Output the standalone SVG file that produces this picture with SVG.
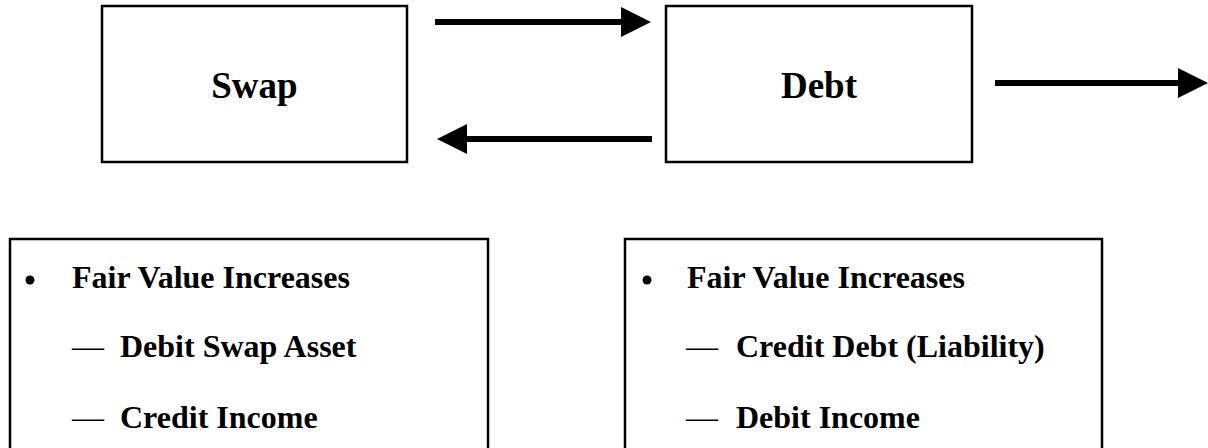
<svg xmlns="http://www.w3.org/2000/svg" width="1208" height="448" viewBox="0 0 1208 448">
<style>
.box{fill:#fff;stroke:#000;stroke-width:2.5}
.title{font-family:"Liberation Serif","Times New Roman",serif;font-weight:bold;font-size:37px;fill:#000;text-anchor:middle}
.txt{font-family:"Liberation Serif","Times New Roman",serif;font-weight:bold;font-size:32px;fill:#000}
.dash{font-family:"Liberation Serif","Times New Roman",serif;font-size:32px;fill:#000}
.conn{stroke:#000;stroke-width:6;fill:none;marker-end:url(#head)}
</style>
<defs>
<marker id="head" viewBox="0 0 30 30" refX="1" refY="15" markerWidth="30" markerHeight="30" markerUnits="userSpaceOnUse" orient="auto">
<path d="M0,0 L30,15 L0,30 z" fill="#000"/>
</marker>
</defs>
<rect width="1208" height="448" fill="#fff"/>
<g id="swap">
<rect class="box" x="102" y="6" width="305" height="156"/>
<text class="title" x="254.5" y="98">Swap</text>
</g>
<g id="debt">
<rect class="box" x="666" y="6" width="306" height="156"/>
<text class="title" x="819" y="98">Debt</text>
</g>
<g id="swap-notes">
<rect class="box" x="10" y="239" width="478" height="220"/>
<circle cx="30" cy="280" r="4.5" fill="#000"/>
<text class="txt" x="72" y="288">Fair Value Increases</text>
<text class="dash" x="72" y="357">—</text>
<text class="txt" x="120" y="357">Debit Swap Asset</text>
<text class="dash" x="72" y="428">—</text>
<text class="txt" x="120" y="428">Credit Income</text>
</g>
<g id="debt-notes">
<rect class="box" x="625" y="239" width="477" height="220"/>
<circle cx="647" cy="280" r="4.5" fill="#000"/>
<text class="txt" x="687" y="288">Fair Value Increases</text>
<text class="dash" x="686" y="357">—</text>
<text class="txt" x="736" y="357">Credit Debt (Liability)</text>
<text class="dash" x="686" y="428">—</text>
<text class="txt" x="736" y="428">Debit Income</text>
</g>
<g id="connectors">
<line class="conn" x1="435" y1="22" x2="622" y2="22"/>
<line class="conn" x1="652" y1="139" x2="466" y2="139"/>
<line class="conn" x1="995" y1="83" x2="1179" y2="83"/>
</g>
</svg>
